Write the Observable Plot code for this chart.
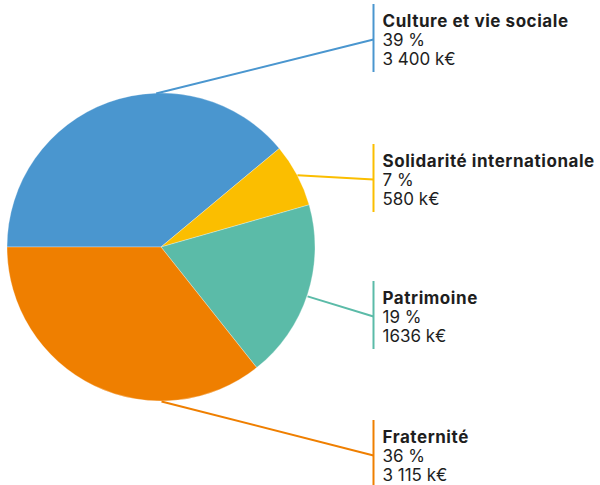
<!DOCTYPE html>
<html><head><meta charset="utf-8">
<script src="https://cdn.jsdelivr.net/npm/d3@7"></script>
<script src="https://cdn.jsdelivr.net/npm/@observablehq/plot@0.6"></script>
<style>body{margin:0;background:#fff} svg{display:block}</style>
</head><body><div id="chart"></div>
<script>
// ---- data ----
const categories = ["Culture et vie sociale", "Solidarité internationale", "Patrimoine", "Fraternité"];
const values = [3400, 580, 1636, 3115];           // k€
const percents = ["39 %", "7 %", "19 %", "36 %"];
const amounts = ["3 400 k€", "580 k€", "1636 k€", "3 115 k€"];
const colors = ["#4a96cf", "#fbbe00", "#5bbba8", "#ef7f00"];

// ---- layout ----
const W = 600, H = 485;
const cx = 161, cy = 247, R = 154;
const labelBaseline = [26, 166, 303, 442];
const leaderStartDeg = [358, 62, 108.5, 180];
const barX = 373, textX = 382;

const rows = categories.map((c, i) => ({
  category: c, value: values[i], pct: percents[i], amount: amounts[i],
  color: colors[i], base: labelBaseline[i], anchor: leaderStartDeg[i] * Math.PI / 180
}));
const arcs = d3.pie().sort(null).value(d => d.value)
  .startAngle(-Math.PI / 2).endAngle(3 * Math.PI / 2)(rows);

function pieMark(index, scales) {
  const X = scales.x, Y = scales.y;
  const rad = Math.abs(X(cx + R) - X(cx));
  const arc = d3.arc().innerRadius(0).outerRadius(rad);
  const g = d3.create("svg:g").attr("transform", `translate(${X(cx)},${Y(cy)})`);
  g.selectAll("path").data(arcs).join("path")
    .attr("d", arc)
    .attr("fill", d => d.data.color)
    .attr("stroke", "#fff").attr("stroke-width", 0.5).attr("stroke-opacity", 0.6);
  return g.node();
}

const font = "Inter, 'Noto Sans', sans-serif";
const chart = Plot.plot({
  width: W, height: H,
  margin: 0,
  x: {domain: [0, W], range: [0, W], axis: null},
  y: {domain: [0, H], range: [0, H], axis: null},
  style: {fontFamily: font, background: "#fff"},
  marks: [
    pieMark,
    Plot.link(rows, {
      x1: d => cx + R * Math.sin(d.anchor), y1: d => cy - R * Math.cos(d.anchor),
      x2: () => barX, y2: d => d.base + 13,
      stroke: d => d.color, strokeWidth: 2
    }),
    Plot.ruleX(rows, {x: () => barX, y1: d => d.base - 22, y2: d => d.base + 46, stroke: d => d.color, strokeWidth: 2}),
    Plot.text(rows, {x: () => textX, y: d => d.base, text: "category", textAnchor: "start", lineAnchor: "bottom",
      fontWeight: "bold", fontSize: 17, fill: "#1e1e1e", style: "letter-spacing:0.55px"}),
    Plot.text(rows, {x: () => textX, y: d => d.base + 19, text: "pct", textAnchor: "start", lineAnchor: "bottom",
      fontSize: 17, fill: "#1e1e1e"}),
    Plot.text(rows, {x: () => textX, y: d => d.base + 38, text: "amount", textAnchor: "start", lineAnchor: "bottom",
      fontSize: 17, fill: "#1e1e1e"})
  ]
});
// apply letter spacing to bold titles
d3.select(chart).selectAll("text").filter(function() { return this.getAttribute("font-weight") === "bold"; })
  .style("letter-spacing", "0.55px");
d3.select(chart).selectAll("g[font-weight='bold']").style("letter-spacing", "0.55px");
document.getElementById("chart").append(chart);
</script>
</body></html>
